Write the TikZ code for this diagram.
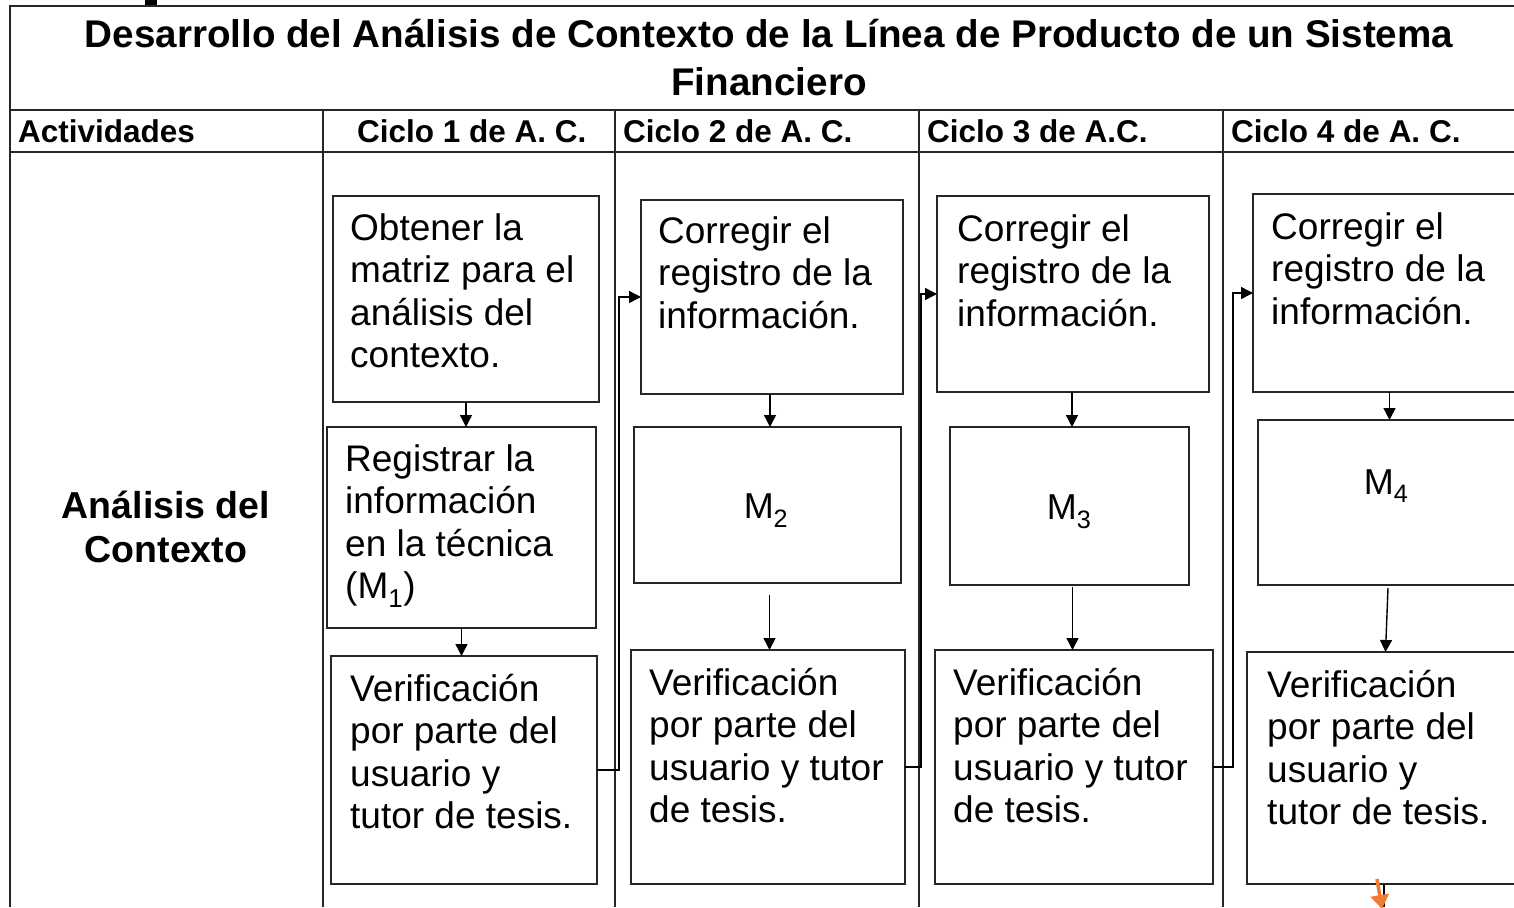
\documentclass[tikz,border=0pt]{standalone}
\usepackage{fontspec}
\setmainfont{Liberation Sans}
\usetikzlibrary{arrows.meta,calc}
\definecolor{linegray}{HTML}{262626}
\definecolor{arroworange}{HTML}{EE7D31}
\newcommand{\nolsl}{\lineskiplimit=-30pt\relax}
\newcommand{\boxfont}{\fontsize{37}{42.5}\selectfont\nolsl}
\newcommand{\titlefont}{\bfseries\fontsize{38.6}{48}\selectfont\nolsl}
\newcommand{\actfont}{\bfseries\fontsize{37.5}{44}\selectfont\nolsl}
\tikzset{
  tline/.style={draw=linegray, line width=1.8pt},
  flowbox/.style={draw=linegray, line width=1.8pt, rectangle, inner sep=0pt, outer sep=0pt},
  boxtext/.style={anchor=north west, inner sep=0pt, align=left, font=\boxfont},
  mtext/.style={anchor=base, inner sep=0pt, font=\fontsize{36}{42}\selectfont},
  headtext/.style={anchor=base west, inner sep=0pt, font=\bfseries\fontsize{31.5}{36}\selectfont},
  arr/.style={draw=black, line width=1.4pt, -{Triangle[length=12pt,width=12pt]}},
  orarr/.style={draw=arroworange, line width=3.5pt, -{Triangle[length=14pt,width=18pt]}}
}
\newcommand{\tstr}{\rule{0pt}{36pt}}
\begin{document}
\begin{tikzpicture}[x=1pt,y=-1pt]
\clip (0,0) rectangle (1514,907);
\fill[white] (0,0) rectangle (1514,907);
\fill[black] (145,0) rectangle (157,5);
% table
\coordinate (tl) at (10,6);
\draw[tline] (1514,6) -- (tl) -- (10,907);
\draw[tline] (10,110) -- (1514,110);
\draw[tline] (10,152) -- (1514,152);
\foreach \x in {323,615,919,1223} \draw[tline] (\x,110) -- (\x,907);
% title
\node[anchor=north, inner sep=0pt, align=center, font=\titlefont] (title) at (769,11)
  {\tstr Desarrollo del Análisis de Contexto de la Línea de Producto de un Sistema\\Financiero};
% headers
\node[headtext] (h0) at (18,142) {Actividades};
\node[headtext] (h1) at (357,142) {Ciclo 1 de A. C.};
\node[headtext] (h2) at (623,142) {Ciclo 2 de A. C.};
\node[headtext] (h3) at (927,142) {Ciclo 3 de A.C.};
\node[headtext] (h4) at (1231,142) {Ciclo 4 de A. C.};
% left label
\node[anchor=north, inner sep=0pt, align=center, font=\actfont] (act) at (166,482)
  {\tstr Análisis del\\Contexto};
% boxes column 1
\node[flowbox, minimum width=266, minimum height=206] (A) at (466,299) {};
\node[flowbox, minimum width=269, minimum height=201] (B) at (461.5,527.5) {};
\node[flowbox, minimum width=266, minimum height=228] (C) at (464,770) {};
% column 2
\node[flowbox, minimum width=262, minimum height=194] (D) at (772,297) {};
\node[flowbox, minimum width=267, minimum height=156] (E) at (767.5,505) {};
\node[flowbox, minimum width=274, minimum height=234] (F) at (768,767) {};
% column 3
\node[flowbox, minimum width=272, minimum height=196] (G) at (1073,294) {};
\node[flowbox, minimum width=239, minimum height=158] (H) at (1069.5,506) {};
\node[flowbox, minimum width=278, minimum height=234] (I) at (1074,767) {};
% column 4
\node[flowbox, minimum width=277, minimum height=198] (J) at (1391.5,293) {};
\node[flowbox, minimum width=272, minimum height=165] (K) at (1394,502.5) {};
\node[flowbox, minimum width=283, minimum height=232] (L) at (1388.5,768) {};
% texts
\node[boxtext] (At) at (350,204) {\tstr Obtener la\\matriz para el\\análisis del\\contexto.};
\node[boxtext] (Bt) at (345,435) {\tstr Registrar la\\información\\en la técnica\\(M\textsubscript{1})};
\node[boxtext] (Ct) at (350,665) {\tstr Verificación\\por parte del\\usuario y\\tutor de tesis.};
\node[boxtext] (Dt) at (658,207) {\tstr Corregir el\\registro de la\\información.};
\node[mtext] (Et) at (766,518) {M\textsubscript{2}};
\node[boxtext] (Ft) at (649,659) {\tstr Verificación\\por parte del\\usuario y tutor\\de tesis.};
\node[boxtext] (Gt) at (957,205) {\tstr Corregir el\\registro de la\\información.};
\node[mtext] (Ht) at (1069,519) {M\textsubscript{3}};
\node[boxtext] (It) at (953,659) {\tstr Verificación\\por parte del\\usuario y tutor\\de tesis.};
\node[boxtext] (Jt) at (1271,203) {\tstr Corregir el\\registro de la\\información.};
\node[mtext] (Kt) at (1386,494) {M\textsubscript{4}};
\node[boxtext] (Lt) at (1267,661) {\tstr Verificación\\por parte del\\usuario y\\tutor de tesis.};
% vertical arrows
\draw[arr] (A.south) -- (A.south |- B.north);
\draw[arr] (B.south) -- (B.south |- C.north);
\draw[arr] ([xshift=-2pt]D.south) -- ([xshift=-2pt]D.south |- E.north);
\draw[arr] ([xshift=2pt,yshift=-12pt]E.south) -- ([xshift=2pt]E.south |- F.north);
\draw[arr] ([xshift=-1pt]G.south) -- ([xshift=-1pt]G.south |- H.north);
\draw[arr] ([xshift=3pt,yshift=-2pt]H.south) -- ([xshift=3pt]H.south |- I.north);
\draw[arr] ([xshift=-2pt]J.south) -- ([xshift=-2pt]J.south |- K.north);
\draw[arr] ([xshift=-6pt,yshift=-3pt]K.south) -- ([xshift=-3pt]L.north);
% side connectors
\draw[arr] (C.east) -- ++(22,0) |- (D.west);
\draw[arr] (F.east) -- ++(16,0) |- (G.west);
\draw[arr] (I.east) -- ++(20,0) |- (J.west);
% bottom
\coordinate (lb) at (1384,907);
\draw[draw=black, line width=1.3pt] ([xshift=-4.5pt]L.south) -- (lb);
\coordinate (o1) at (1377,879);
\coordinate (o2) at (1382,909);
\draw[orarr] (o1) -- (o2);
\end{tikzpicture}
\end{document}
